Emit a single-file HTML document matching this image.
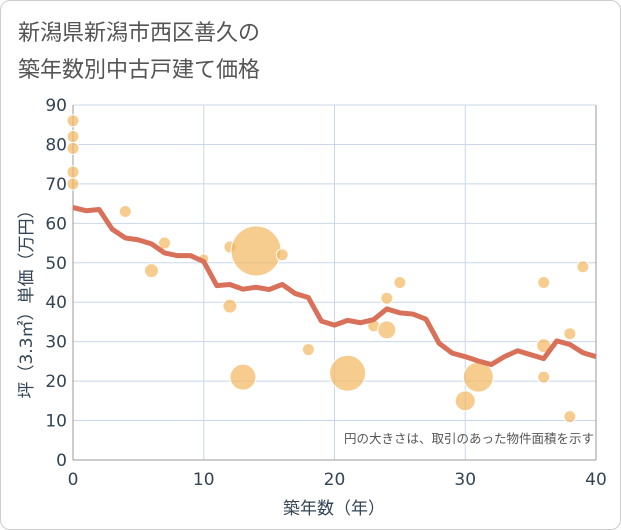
<!DOCTYPE html>
<html><head><meta charset="utf-8"><style>
body{margin:0;background:#fff}
#w{width:619px;height:528px;border:1px solid #ccc;border-radius:10px;position:relative;overflow:hidden;font-family:"Liberation Sans","Noto Sans CJK JP",sans-serif}
</style></head><body>
<div id="w">
<svg id="s" width="621" height="530" style="position:absolute;left:-1px;top:-1px">
<text x="18" y="40" font-size="22" fill="#555" font-family="DejaVu Sans,Noto Sans CJK JP,sans-serif">新潟県新潟市西区善久の</text>
<text x="18" y="77" font-size="22" fill="#555" font-family="DejaVu Sans,Noto Sans CJK JP,sans-serif">築年数別中古戸建て価格</text>
<g id="g" font-family="DejaVu Sans,Noto Sans CJK JP,sans-serif"></g>
</svg></div>
<script>
const xTicks=[0,10,20,30,40];
const yTicks=[0,10,20,30,40,50,60,70,80,90];
const lineYears=[0,1,2,3,4,5,6,7,8,9,10,11,12,13,14,15,16,17,18,19,20,21,22,23,24,25,26,27,28,29,30,31,32,33,34,35,36,37,38,39,40];
const lineVals=[64,63.2,63.5,58.5,56.3,55.8,54.8,52.5,51.8,51.8,50.3,44.2,44.5,43.3,43.8,43.2,44.5,42.2,41.2,35.2,34.2,35.4,34.8,35.6,38.3,37.3,37,35.7,29.6,27.1,26.2,25.1,24.2,26.2,27.7,26.7,25.7,30.2,29.3,27.2,26.2];
const bubX=[0,0,0,0,0,4,6,7,10,12,12,13,14,16,18,21,23,24,24,25,30,31,36,36,36,38,38,39];
const bubY=[86,82,79,73,70,63,48,55,51,54,39,21,53,52,28,22,34,41,33,45,15,21,45,29,21,32,11,49];
const bubR=[6,6,6,6,6,6,7,6,5,6,7,13,25,6,6,18,6,6,9,6,10,15,6,7,6,6,6,6];
const X0=73,X1=596,Y0=460,Y1=105;
const sx=v=>X0+(v/40)*(X1-X0), sy=v=>Y0-(v/90)*(Y0-Y1);
const NS='http://www.w3.org/2000/svg',g=document.getElementById('g');
function mk(t,a,txt){const e=document.createElementNS(NS,t);for(const k in a)e.setAttribute(k,a[k]);if(txt!=null)e.textContent=txt;g.appendChild(e);return e;}
yTicks.forEach(v=>{const e=mk('line',{x1:X0,x2:X1,y1:sy(v),y2:sy(v),stroke:'#c8d8e8','stroke-width':1});

const t=mk('text',{x:67,y:sy(v)+6,'text-anchor':'end','font-size':17,fill:'#345'},v);
});
xTicks.forEach(v=>{const e=mk('line',{x1:sx(v),x2:sx(v),y1:Y1,y2:Y0,stroke:'#c8d8e8','stroke-width':1});

const t=mk('text',{x:sx(v),y:485,'text-anchor':'middle','font-size':17,fill:'#345'},v);
});
let a=mk('line',{x1:X0,x2:X0,y1:Y1,y2:Y0,stroke:'#999'});
a=mk('line',{x1:X0,x2:X1,y1:Y0,y2:Y0,stroke:'#999'});
a=mk('line',{x1:X1,x2:X1,y1:Y1,y2:Y0,stroke:'#999'});
bubX.forEach((x,i)=>{const c=mk('circle',{cx:sx(x),cy:sy(bubY[i]),r:bubR[i],fill:'rgba(242,182,96,0.7)',stroke:'#fff','stroke-width':1});
});
const p=mk('polyline',{points:lineYears.map((x,i)=>sx(x)+','+sy(lineVals[i])).join(' '),fill:'none',stroke:'#d9705a','stroke-width':5,'stroke-linejoin':'round'});

let t=mk('text',{x:594,y:443,'text-anchor':'end','font-size':12.5,fill:'#555'},'円の大きさは、取引のあった物件面積を示す');

t=mk('text',{x:334,y:514,'text-anchor':'middle','font-size':17,fill:'#345'},'築年数（年）');

t=mk('text',{x:0,y:0,'text-anchor':'middle','font-size':17,fill:'#345',transform:'translate(32,300) rotate(-90)'},'坪（3.3㎡）単価（万円）');

</script></body></html>
